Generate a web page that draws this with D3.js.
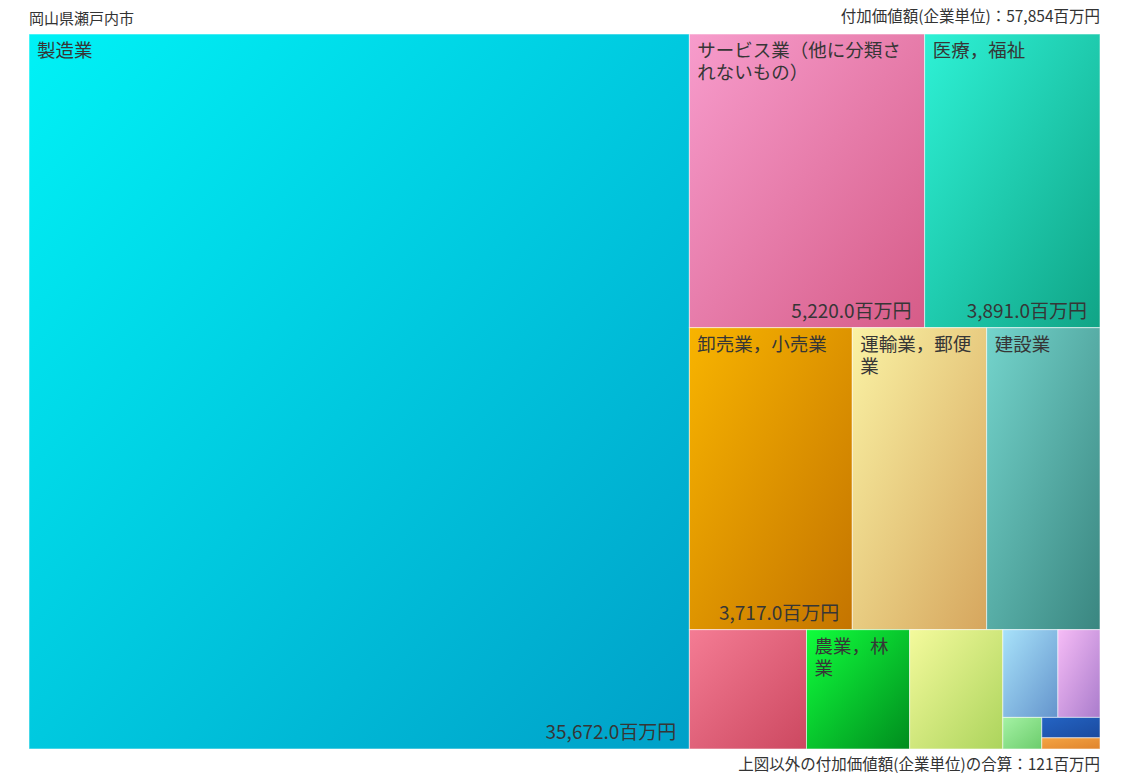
<!DOCTYPE html>
<html lang="ja">
<head>
<meta charset="utf-8">
<script src="https://cdn.jsdelivr.net/npm/d3@7"></script>
<style>
  html, body { margin: 0; padding: 0; background: #fff; }
  svg { display: block; font-family: "Noto Sans CJK JP", "Noto Sans", sans-serif; }
</style>
</head>
<body>
<svg id="chart" width="1122" height="773"></svg>
<script>
// 付加価値額(企業単位)  単位：百万円
const industries = [
  "製造業",
  "サービス業（他に分類されないもの）",
  "医療，福祉",
  "卸売業，小売業",
  "運輸業，郵便業",
  "建設業",
  "宿泊業，飲食サービス業",
  "農業，林業",
  "生活関連サービス業，娯楽業",
  "不動産業，物品賃貸業",
  "学術研究，専門・技術サービス業",
  "教育，学習支援業",
  "情報通信業",
  "漁業"
];
const values = [35672, 5220, 3891, 3717, 3066, 2586, 1056, 930, 840, 365, 279, 93, 90, 49];
const showName  = [true, true, true, true, true, true, false, true, false, false, false, false, false, false];
const showValue = [true, true, true, true, false, false, false, false, false, false, false, false, false, false];

// gradient stops (top-left → bottom-right)
const colorLight = ["#00f2f6", "#f79ccc", "#2ef2d6", "#f8b400", "#faf2a4", "#74d4cc", "#f47c94", "#10ff3c", "#f4fa9c", "#a8e2fa", "#f6bcf6", "#a4f2a4", "#2464c4", "#f4a444"];
const colorDark  = ["#00a0c8", "#d65c88", "#10a486", "#c47400", "#d6a65e", "#3a8680", "#cc4860", "#008c1e", "#acd45c", "#6494cc", "#aa7ccc", "#6ccc6c", "#1a4a9e", "#e0842c"];

const regionLabel = "岡山県瀬戸内市";
const totalLabel  = "付加価値額(企業単位)：57,854百万円";
const otherLabel  = "上図以外の付加価値額(企業単位)の合算：121百万円";
const unit = "百万円";

const svg = d3.select("#chart");
const area = { x: 29, y: 34, w: 1071, h: 715 };

// squarified tiling; the last two leftover cells share one row
const phi = (1 + Math.sqrt(5)) / 2;
function tile(parent, x0, y0, x1, y1) {
  const nodes = parent.children, n = nodes.length;
  let value = parent.value, i0 = 0, i1 = 0;
  while (i0 < n) {
    const dx = x1 - x0, dy = y1 - y0;
    let sum = nodes[i1++].value, minV = sum, maxV = sum;
    const alpha = Math.max(dy / dx, dx / dy) / (value * phi);
    let beta = sum * sum * alpha;
    let minRatio = Math.max(maxV / beta, beta / minV);
    const tail = (n - i0) <= 2;
    for (; i1 < n; ++i1) {
      const v = nodes[i1].value;
      if (tail) { sum += v; continue; }
      sum += v;
      const mn = Math.min(minV, v), mx = Math.max(maxV, v);
      beta = sum * sum * alpha;
      const r = Math.max(mx / beta, beta / mn);
      if (r > minRatio) { sum -= v; break; }
      minRatio = r; minV = mn; maxV = mx;
    }
    const row = { value: sum, children: nodes.slice(i0, i1) };
    if (dx < dy) d3.treemapDice(row, x0, y0, x1, y0 += dy * sum / value);
    else d3.treemapSlice(row, x0, y0, x0 += dx * sum / value, y1);
    value -= sum;
    i0 = i1;
  }
}

const data = industries.map((name, i) => ({ name, value: values[i], i }));
const root = d3.hierarchy({ children: data })
  .sum(d => d.value || 0)
  .sort((a, b) => b.value - a.value);

d3.treemap()
  .tile(tile)
  .size([area.w, area.h])
  .round(false)(root);

const defs = svg.append("defs");
data.forEach((d, i) => {
  const g = defs.append("linearGradient")
    .attr("id", "grad" + i)
    .attr("x1", 0).attr("y1", 0).attr("x2", 1).attr("y2", 1);
  g.append("stop").attr("offset", "0%").attr("stop-color", colorLight[i]);
  g.append("stop").attr("offset", "100%").attr("stop-color", colorDark[i]);
});

const plot = svg.append("g").attr("transform", `translate(${area.x},${area.y})`);

const cells = plot.selectAll("g.cell")
  .data(root.leaves())
  .join("g")
  .attr("class", "cell")
  .attr("transform", d => `translate(${d.x0},${d.y0})`);

cells.append("rect")
  .attr("width", d => d.x1 - d.x0)
  .attr("height", d => d.y1 - d.y0)
  .attr("fill", d => `url(#grad${d.data.i})`)
  .attr("stroke", "rgba(255,255,255,0.55)")
  .attr("stroke-width", 1);

const fs = 18.5, lh = 22, pad = 8;

// names, wrapped by character
cells.filter(d => showName[d.data.i]).each(function (d) {
  const g = d3.select(this);
  const maxW = (d.x1 - d.x0) - pad * 2;
  const text = g.append("text")
    .attr("x", pad)
    .attr("y", 23)
    .attr("font-size", fs)
    .attr("fill", "#363636");
  let line = "";
  let tspan = text.append("tspan").attr("x", pad).attr("dy", 0);
  Array.from(d.data.name).forEach(ch => {
    tspan.text(line + ch);
    if (tspan.node().getComputedTextLength() > maxW && line.length) {
      tspan.text(line);
      line = ch;
      tspan = text.append("tspan").attr("x", pad).attr("dy", lh).text(ch);
    } else {
      line += ch;
    }
  });
});

// values at bottom-right
const fmt = d3.format(",.1f");
cells.filter(d => showValue[d.data.i]).append("text")
  .attr("x", d => (d.x1 - d.x0) - 13)
  .attr("y", d => (d.y1 - d.y0) - 10)
  .attr("text-anchor", "end")
  .attr("font-size", 19)
  .attr("fill", "#363636")
  .text(d => fmt(d.data.value) + unit);

// header / footer texts
svg.append("text")
  .attr("x", area.x).attr("y", 24)
  .attr("font-size", 15).attr("fill", "#333")
  .text(regionLabel);

svg.append("text")
  .attr("x", area.x + area.w).attr("y", 22)
  .attr("text-anchor", "end")
  .attr("font-size", 15.5).attr("fill", "#333")
  .text(totalLabel);

svg.append("text")
  .attr("x", area.x + area.w).attr("y", 770)
  .attr("text-anchor", "end")
  .attr("font-size", 15.5).attr("fill", "#333")
  .text(otherLabel);
</script>
</body>
</html>
